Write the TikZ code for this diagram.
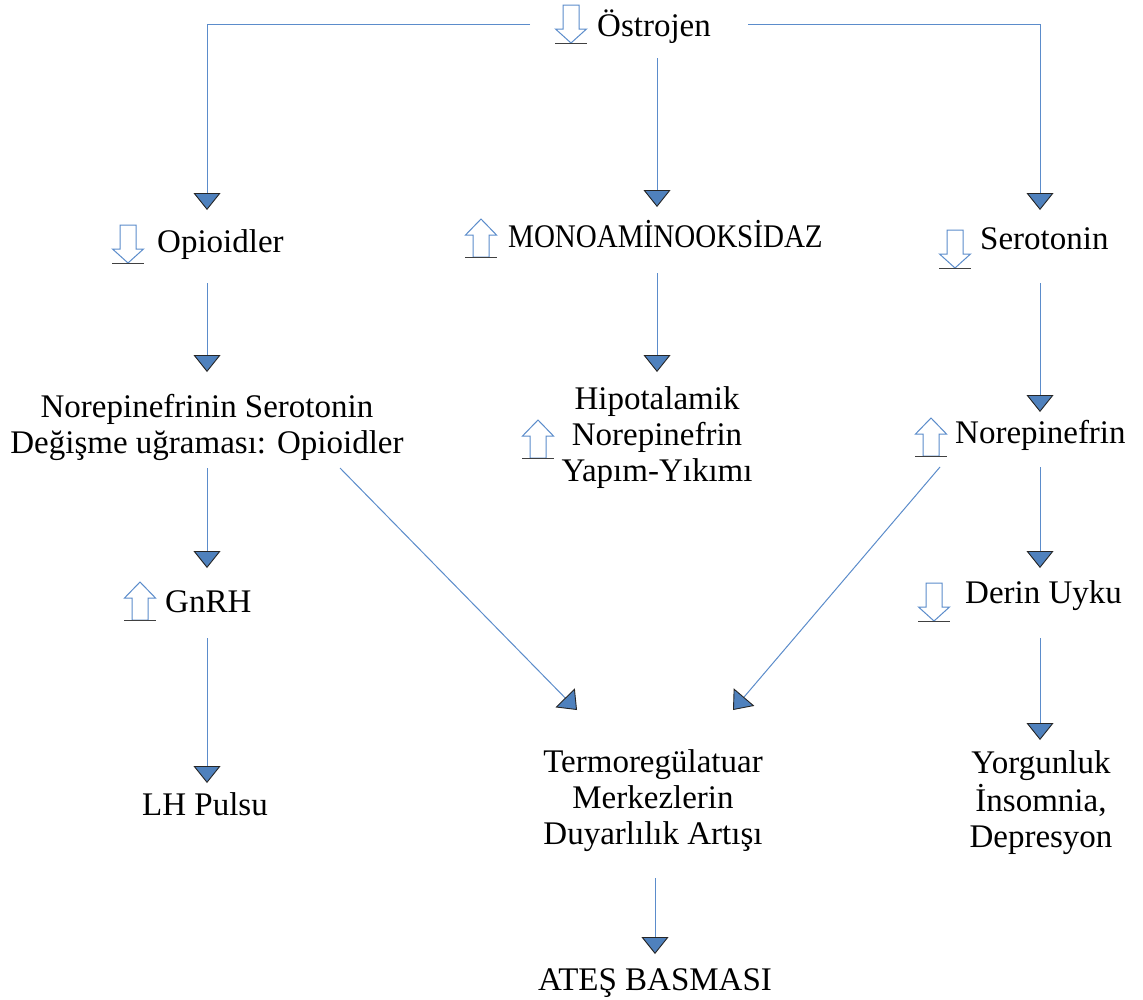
\documentclass[tikz,border=0pt]{standalone}
\usepackage{fontspec}
\setmainfont{Liberation Serif}
\usetikzlibrary{arrows.meta}
\definecolor{lineblue}{HTML}{5B8CCB}
\definecolor{tipblue}{HTML}{4F81BD}
\tikzset{
  conn/.style={draw=lineblue, line width=1pt,
    -{Triangle[width=27pt,length=17pt,fill=tipblue,color=black!85,line width=0.9pt]}},
  lbl/.style={inner sep=0pt, font=\fontsize{33}{36}\selectfont, text=black},
  iconshape/.style={draw=lineblue, line width=1pt, fill=white},
  uline/.style={draw=black!75, line width=1.6pt},
  downicon/.pic={
    \path[iconshape] (-8,0) -- (8,0) -- (8,24) -- (15.5,24) -- (0,38) -- (-15.5,24) -- (-8,24) -- cycle;
    \path[uline] (-16,38.5) -- (16,38.5);},
  upicon/.pic={
    \path[iconshape] (0,0) -- (15.5,16) -- (8,16) -- (8,38) -- (-8,38) -- (-8,16) -- (-15.5,16) -- cycle;
    \path[uline] (-16,38.5) -- (16,38.5);}
}
\begin{document}
\begin{tikzpicture}[x=1pt,y=-1pt]
\useasboundingbox[fill=white] (0,0) rectangle (1143,999);

% icons
\pic at (571,5) {downicon};
\pic at (128,225) {downicon};
\pic at (481,219) {upicon};
\pic at (955,230) {downicon};
\pic at (538,420) {upicon};
\pic at (931,418) {upicon};
\pic at (140,582) {upicon};
\pic at (934,583) {downicon};

% labels
\node[lbl, anchor=base west] (ostro) at (597,36) {Östrojen};
\node[lbl, anchor=base west] (opio) at (157,252) {Opioidler};
\node[lbl, anchor=base west] (mono) at (508,247) {\scalebox{0.88}[1]{MONOAMİNOOKSİDAZ}};
\node[lbl, anchor=base west] (sero) at (980,249) {Serotonin};
\node[lbl, anchor=base] (nsd) at (207,417) {\begin{tabular}[t]{@{}c@{}}Norepinefrinin Serotonin\\Değişme uğraması: Opioidler\end{tabular}};
\node[lbl, anchor=base] (hipo) at (657,409) {\begin{tabular}[t]{@{}c@{}}Hipotalamik\\Norepinefrin\\Yapım-Yıkımı\end{tabular}};
\node[lbl, anchor=base west] (nore) at (955,443) {Norepinefrin};
\node[lbl, anchor=base west] (gnrh) at (165,612) {GnRH};
\node[lbl, anchor=base west] (derin) at (965,603) {Derin Uyku};
\node[lbl, anchor=base] (lh) at (205,815) {LH Pulsu};
\node[lbl, anchor=base] (termo) at (653,772) {\begin{tabular}[t]{@{}c@{}}Termoregülatuar\\Merkezlerin\\Duyarlılık Artışı\end{tabular}};
\node[lbl, anchor=base] (yorg) at (1041,773) {\begin{tabular}[t]{@{}c@{}}Yorgunluk\\İnsomnia,\\Depresyon\end{tabular}};
\node[lbl, anchor=base] (ates) at (655,990) {ATEŞ BASMASI};

% connector end points
\coordinate (ostL) at (530,24);
\coordinate (ostR) at (748,24);
\coordinate (ostB) at (657,58);
\coordinate (opioT) at (207,210);
\coordinate (monoT) at (657,207);
\coordinate (seroT) at (1040,210);
\coordinate (opioB) at (207,283);
\coordinate (nsdT) at (207,372);
\coordinate (monoB) at (657,273);
\coordinate (hipoT) at (657,372);
\coordinate (seroB) at (1040,283);
\coordinate (noreT) at (1040,412);
\coordinate (nsdB) at (207,468);
\coordinate (gnrhT) at (207,568);
\coordinate (nsdD) at (340,468);
\coordinate (termoL) at (577,710);
\coordinate (noreD) at (940,467);
\coordinate (termoR) at (733,710);
\coordinate (noreB) at (1040,467);
\coordinate (derinT) at (1040,568);
\coordinate (gnrhB) at (207,638);
\coordinate (lhT) at (207,783);
\coordinate (derinB) at (1040,638);
\coordinate (yorgT) at (1040,740);
\coordinate (termoB) at (655,878);
\coordinate (atesT) at (655,954);

% connectors
\draw[conn] (ostL) -| (opioT);
\draw[conn] (ostB) -- (monoT);
\draw[conn] (ostR) -| (seroT);
\draw[conn] (opioB) -- (nsdT);
\draw[conn] (monoB) -- (hipoT);
\draw[conn] (seroB) -- (noreT);
\draw[conn] (nsdB) -- (gnrhT);
\draw[conn] (nsdD) -- (termoL);
\draw[conn] (noreD) -- (termoR);
\draw[conn] (noreB) -- (derinT);
\draw[conn] (gnrhB) -- (lhT);
\draw[conn] (derinB) -- (yorgT);
\draw[conn] (termoB) -- (atesT);
\end{tikzpicture}
\end{document}
